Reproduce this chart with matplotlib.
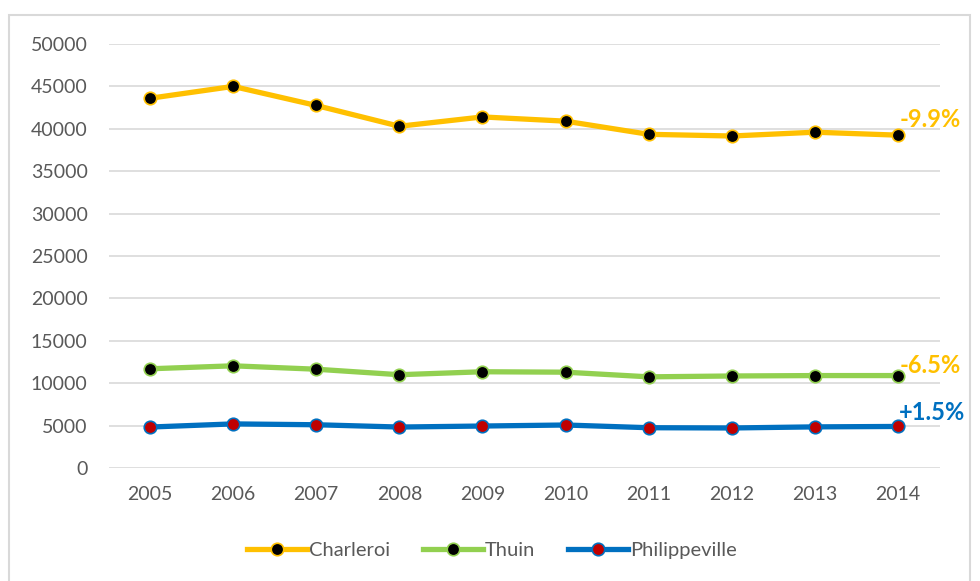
import matplotlib
matplotlib.use("Agg")
import matplotlib.pyplot as plt
from matplotlib.patches import Rectangle

years = ["2005", "2006", "2007", "2008", "2009", "2010", "2011", "2012", "2013", "2014"]
charleroi = [43600, 45000, 42750, 40300, 41400, 40900, 39350, 39150, 39600, 39250]
thuin = [11700, 12050, 11650, 11000, 11350, 11300, 10750, 10850, 10900, 10900]
philippeville = [4830, 5200, 5100, 4830, 4950, 5070, 4750, 4720, 4850, 4900]
series_names = ["Charleroi", "Thuin", "Philippeville"]
changes = ["-9.9%", "-6.5%", "+1.5%"]
yticks = [0, 5000, 10000, 15000, 20000, 25000, 30000, 35000, 40000, 45000, 50000]

line_colors = ["#FFC000", "#92D050", "#0070C0"]
marker_colors = ["#000000", "#000000", "#C00000"]
label_colors = ["#FFC000", "#FFC000", "#0070C0"]

plt.rcParams['font.family'] = ['Lato', 'DejaVu Sans']

fig = plt.figure(figsize=(9.8, 5.81), dpi=100)
W, H = 980, 581
ax = fig.add_axes([108.5 / W, (H - 468) / H, (939.5 - 108.5) / W, (468 - 44) / H])

x = list(range(len(years)))
for vals, name, lc, mc in zip([charleroi, thuin, philippeville], series_names, line_colors, marker_colors):
    ax.plot(x, vals, color=lc, lw=3.8, marker='o', markersize=9, markerfacecolor=mc,
            markeredgecolor=lc, markeredgewidth=1.2, label=name, zorder=3, clip_on=False)

for vals, txt, c, dy in zip([charleroi, thuin, philippeville], changes, label_colors, [3, -1, 2]):
    ax.annotate(txt, (x[-1], vals[-1]), xytext=(1, dy), textcoords='offset points',
                color=c, fontsize=17, fontweight='bold', ha='left', va='bottom',
                annotation_clip=False)

ax.set_xlim(-0.5, len(years) - 0.5)
ax.set_ylim(0, 50000)
ax.set_xticks(x)
ax.set_xticklabels(years)
ax.set_yticks(yticks)
ax.set_yticklabels([str(v) for v in yticks])
ax.tick_params(axis='both', length=0, labelsize=14, labelcolor='#595959')
ax.tick_params(axis='y', pad=15)
ax.tick_params(axis='x', pad=13)
ax.grid(axis='y', color='#D9D9D9', lw=1.2)
ax.set_axisbelow(True)
for s in ax.spines.values():
    s.set_visible(False)

handles, labels = ax.get_legend_handles_labels()
leg = fig.legend(handles, labels, loc='center', bbox_to_anchor=(492 / W, (H - 550) / H),
                 ncol=3, frameon=False, fontsize=14.5, handlelength=3.0, handletextpad=0.1,
                 columnspacing=1.6)
for t in leg.get_texts():
    t.set_color('#595959')

fig.patches.append(Rectangle((9 / W, -0.1), (970 - 9) / W, 1.1 - 15 / H, transform=fig.transFigure,
                             fill=False, edgecolor='#D9D9D9', lw=1.5))

fig.savefig("out.png", dpi=100)
